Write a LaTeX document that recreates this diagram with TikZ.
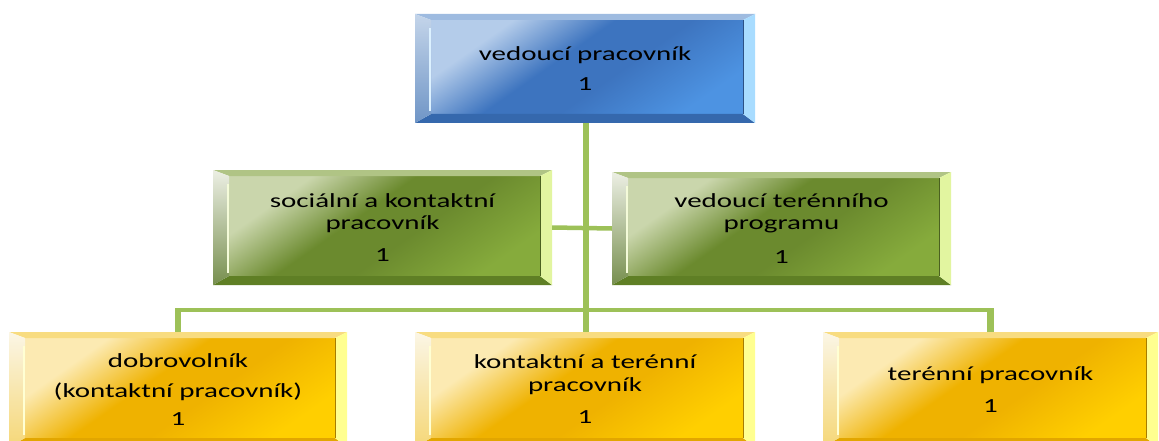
\documentclass[tikz,border=0pt]{standalone}
\usepackage{fontspec}
\setmainfont{Carlito}[FakeStretch=1.45]
\usetikzlibrary{calc}

% connector colour
\definecolor{conngreen}{RGB}{157,193,88}
% blue family: face light / dark / far, left bevel top / bottom, right, top, bottom
\definecolor{blueL}{HTML}{B4CCEA}
\definecolor{blueD}{HTML}{3D74BF}
\definecolor{blueF}{HTML}{4D93E2}
\definecolor{blueLa}{HTML}{C4D5EA}
\definecolor{blueLb}{HTML}{6F95C6}
\definecolor{blueR}{HTML}{A8DCFF}
\definecolor{blueT}{HTML}{9EBBE0}
\definecolor{blueB}{HTML}{3568AD}
% green family
\definecolor{greenL}{HTML}{CAD6AC}
\definecolor{greenD}{HTML}{6B8A2E}
\definecolor{greenF}{HTML}{86AB3C}
\definecolor{greenLa}{HTML}{ECEFE4}
\definecolor{greenLb}{HTML}{778F4E}
\definecolor{greenR}{HTML}{E2F5A0}
\definecolor{greenT}{HTML}{B0C485}
\definecolor{greenB}{HTML}{5F7F25}
% yellow family
\definecolor{yellowL}{HTML}{FCEAB2}
\definecolor{yellowD}{HTML}{EFB200}
\definecolor{yellowF}{HTML}{FFCF00}
\definecolor{yellowLa}{HTML}{FBF6E6}
\definecolor{yellowLb}{HTML}{F5D777}
\definecolor{yellowR}{HTML}{FFFF90}
\definecolor{yellowT}{HTML}{F8DC80}
\definecolor{yellowB}{HTML}{E2A600}

% diagonal face shadings: far colour at the bottom, light colour at the top
\pgfdeclareverticalshading{blueface}{100bp}{color(0bp)=(blueF); color(25bp)=(blueF);
  color(44bp)=(blueD); color(56bp)=(blueD); color(72bp)=(blueL); color(100bp)=(blueL)}
\pgfdeclareverticalshading{greenface}{100bp}{color(0bp)=(greenF); color(25bp)=(greenF);
  color(44bp)=(greenD); color(56bp)=(greenD); color(72bp)=(greenL); color(100bp)=(greenL)}
\pgfdeclareverticalshading{yellowface}{100bp}{color(0bp)=(yellowF); color(25bp)=(yellowF);
  color(44bp)=(yellowD); color(56bp)=(yellowD); color(72bp)=(yellowL); color(100bp)=(yellowL)}

% bevelled face drawn inside a rectangular node
\newcommand\bevelfill[1]{%
  \coordinate (pNW) at (path picture bounding box.north west);
  \coordinate (pSE) at (path picture bounding box.south east);
  \coordinate (pNE) at (pSE |- pNW);
  \coordinate (pSW) at (pNW |- pSE);
  \coordinate (iNW) at ($(pNW)+(16,6)$);
  \coordinate (iSE) at ($(pSE)+(-12,-9)$);
  \coordinate (iNE) at (iSE |- iNW);
  \coordinate (iSW) at (iNW |- iSE);
  \shade[shading=#1face, shading angle=35] (iNW) rectangle (iSE);
  \fill[#1T] (pNW) -- (pNE) -- (iNE) -- (iNW) -- cycle;
  \fill[#1B] (pSW) -- (pSE) -- (iSE) -- (iSW) -- cycle;
  \shade[top color=#1La, bottom color=#1Lb] (pNW) -- (iNW) -- (iSW) -- (pSW) -- cycle;
  \fill[#1R] (pNE) -- (pSE) -- (iSE) -- (iNE) -- cycle;
  \draw[#1D!70!black, line width=0.8] (iNE) -- (iSE);
  \draw[white!60!#1R, line width=2] ($(iNW)+(-1.5,8)$) -- ($(iSW)+(-1.5,-3)$);
}

\tikzset{
  box/.style={rectangle, inner sep=0pt, align=center, text=black,
    font=\fontsize{20}{22.5}\selectfont},
  bluebox/.style={box, path picture={\bevelfill{blue}}},
  greenbox/.style={box, path picture={\bevelfill{green}}},
  yellowbox/.style={box, path picture={\bevelfill{yellow}}},
  conn/.style={draw=conngreen, line width=6.5},
  hconn/.style={draw=conngreen, line width=4.5},
}

\begin{document}
\begin{tikzpicture}[x=1pt, y=-1pt]
  \useasboundingbox (0,0) rectangle (1159,441);
  \fill[white] (0,0) rectangle (1159,441);

  \coordinate (bus) at (0,310);
  \coordinate (spine) at (586,0);

  % top level
  \node[bluebox, minimum width=340, minimum height=109] (top) at (585,68.5)
    {vedoucí pracovník\\[7.5pt]1};

  % middle level
  \node[greenbox, minimum width=339, minimum height=115] (ml) at (382.5,227.5)
    {sociální a kontaktní\\pracovník\\[9pt]1};
  \node[greenbox, minimum width=339, minimum height=113] (mr) at (781.5,228.5)
    {vedoucí terénního\\programu\\[11pt]1};

  % bottom level
  \node[yellowbox, minimum width=338, minimum height=115] (b1) at (178,389.5)
    {dobrovolník\\[7.5pt](kontaktní pracovník)\\[5.5pt]1};
  \node[yellowbox, minimum width=340, minimum height=115] (b2) at (585,389.5)
    {kontaktní a terénní\\pracovník\\[10pt]1};
  \node[yellowbox, minimum width=335, minimum height=115] (b3) at (990.5,389.5)
    {terénní pracovník\\[10pt]1};

  % connectors
  \draw[conn] (top.south -| spine) -- (b2.north -| spine);
  \draw[hconn] (ml.east) -- (mr.west);
  \draw[hconn] (b1 |- bus) -- (b3 |- bus);
  \draw[conn] (b1.north) -- ($(b1 |- bus)+(0,-2.25)$);
  \draw[conn] (b3.north) -- ($(b3 |- bus)+(0,-2.25)$);
\end{tikzpicture}
\end{document}
